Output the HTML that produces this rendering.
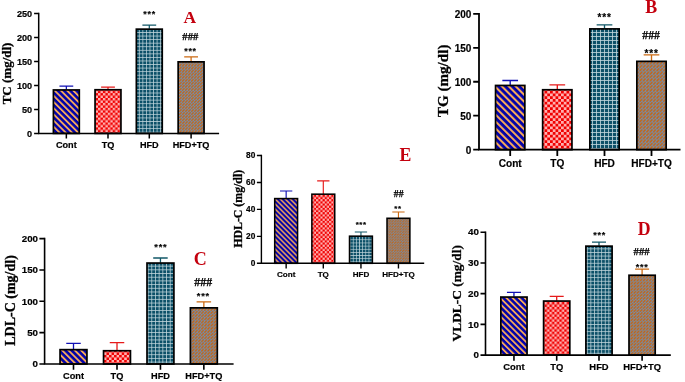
<!DOCTYPE html>
<html><head><meta charset="utf-8"><style>
html,body{margin:0;padding:0;background:#fff;width:685px;height:382px;overflow:hidden}
svg{display:block;will-change:transform}
.s{font-family:"Liberation Sans", sans-serif;font-weight:bold;fill:#000;stroke:#000;stroke-width:0.18px}
.r{font-family:"Liberation Serif", serif;font-weight:bold}
.h{stroke:#000;stroke-width:0.25px}
.t{stroke:#000;stroke-width:0.3px}
</style></head><body>
<svg width="685" height="382" viewBox="0 0 685 382">
<defs>
<pattern id="pS0" patternUnits="userSpaceOnUse" width="4.38" height="4.38" patternTransform="rotate(-45)"><rect width="4.38" height="4.38" fill="#0000aa"/><rect width="1.84" height="4.38" fill="#f6a858"/></pattern>
<pattern id="pC0" patternUnits="userSpaceOnUse" width="4.9" height="4.9"><rect width="4.9" height="4.9" fill="#f00000"/><rect width="2.45" height="2.45" fill="#ffb0b0"/><rect x="2.45" y="2.45" width="2.45" height="2.45" fill="#ffb0b0"/></pattern>
<pattern id="pG0" patternUnits="userSpaceOnUse" width="3.56" height="3.56"><rect width="3.56" height="3.56" fill="#0c5068"/><rect width="3.56" height="0.71" fill="#c4d8de"/><rect width="0.71" height="3.56" fill="#c4d8de"/></pattern>
<pattern id="pD0" patternUnits="userSpaceOnUse" width="3.03" height="3.03"><rect width="3.03" height="3.03" fill="#728eae"/><path d="M0.73 2.3L2.3 0.73" stroke="#c8640f" stroke-width="1.33" stroke-linecap="round"/></pattern>
<pattern id="pS1" patternUnits="userSpaceOnUse" width="4.88" height="4.88" patternTransform="rotate(-45)"><rect width="4.88" height="4.88" fill="#0000aa"/><rect width="2.05" height="4.88" fill="#f6a858"/></pattern>
<pattern id="pC1" patternUnits="userSpaceOnUse" width="5.5" height="5.5"><rect width="5.5" height="5.5" fill="#f00000"/><rect width="2.75" height="2.75" fill="#ffb0b0"/><rect x="2.75" y="2.75" width="2.75" height="2.75" fill="#ffb0b0"/></pattern>
<pattern id="pG1" patternUnits="userSpaceOnUse" width="4" height="4"><rect width="4" height="4" fill="#0c5068"/><rect width="4" height="0.8" fill="#c4d8de"/><rect width="0.8" height="4" fill="#c4d8de"/></pattern>
<pattern id="pD1" patternUnits="userSpaceOnUse" width="3.4" height="3.4"><rect width="3.4" height="3.4" fill="#728eae"/><path d="M0.82 2.58L2.58 0.82" stroke="#c8640f" stroke-width="1.5" stroke-linecap="round"/></pattern>
<pattern id="pS2" patternUnits="userSpaceOnUse" width="4.45" height="4.45" patternTransform="rotate(-45)"><rect width="4.45" height="4.45" fill="#0000aa"/><rect width="1.87" height="4.45" fill="#f6a858"/></pattern>
<pattern id="pC2" patternUnits="userSpaceOnUse" width="5.07" height="5.07"><rect width="5.07" height="5.07" fill="#f00000"/><rect width="2.54" height="2.54" fill="#ffb0b0"/><rect x="2.54" y="2.54" width="2.54" height="2.54" fill="#ffb0b0"/></pattern>
<pattern id="pG2" patternUnits="userSpaceOnUse" width="3.69" height="3.69"><rect width="3.69" height="3.69" fill="#0c5068"/><rect width="3.69" height="0.74" fill="#c4d8de"/><rect width="0.74" height="3.69" fill="#c4d8de"/></pattern>
<pattern id="pD2" patternUnits="userSpaceOnUse" width="3.14" height="3.14"><rect width="3.14" height="3.14" fill="#728eae"/><path d="M0.75 2.38L2.38 0.75" stroke="#c8640f" stroke-width="1.38" stroke-linecap="round"/></pattern>
<pattern id="pS3" patternUnits="userSpaceOnUse" width="4.31" height="4.31" patternTransform="rotate(-45)"><rect width="4.31" height="4.31" fill="#0000aa"/><rect width="1.81" height="4.31" fill="#f6a858"/></pattern>
<pattern id="pC3" patternUnits="userSpaceOnUse" width="4.95" height="4.95"><rect width="4.95" height="4.95" fill="#f00000"/><rect width="2.47" height="2.47" fill="#ffb0b0"/><rect x="2.47" y="2.47" width="2.47" height="2.47" fill="#ffb0b0"/></pattern>
<pattern id="pG3" patternUnits="userSpaceOnUse" width="3.6" height="3.6"><rect width="3.6" height="3.6" fill="#0c5068"/><rect width="3.6" height="0.72" fill="#c4d8de"/><rect width="0.72" height="3.6" fill="#c4d8de"/></pattern>
<pattern id="pD3" patternUnits="userSpaceOnUse" width="3.06" height="3.06"><rect width="3.06" height="3.06" fill="#728eae"/><path d="M0.73 2.33L2.33 0.73" stroke="#c8640f" stroke-width="1.35" stroke-linecap="round"/></pattern>
<pattern id="pS4" patternUnits="userSpaceOnUse" width="3.54" height="3.54" patternTransform="rotate(-45)"><rect width="3.54" height="3.54" fill="#0000aa"/><rect width="1.48" height="3.54" fill="#f6a858"/></pattern>
<pattern id="pC4" patternUnits="userSpaceOnUse" width="4.33" height="4.33"><rect width="4.33" height="4.33" fill="#f00000"/><rect width="2.16" height="2.16" fill="#ffb0b0"/><rect x="2.16" y="2.16" width="2.16" height="2.16" fill="#ffb0b0"/></pattern>
<pattern id="pG4" patternUnits="userSpaceOnUse" width="3.15" height="3.15"><rect width="3.15" height="3.15" fill="#0c5068"/><rect width="3.15" height="0.63" fill="#c4d8de"/><rect width="0.63" height="3.15" fill="#c4d8de"/></pattern>
<pattern id="pD4" patternUnits="userSpaceOnUse" width="2.68" height="2.68"><rect width="2.68" height="2.68" fill="#728eae"/><path d="M0.64 2.03L2.03 0.64" stroke="#c8640f" stroke-width="1.18" stroke-linecap="round"/></pattern>
</defs>
<path d="M66.35 89.6V86.2M59.45 86.2H73.25" stroke="#1010b4" stroke-width="1.25" fill="none"/>
<rect x="53.4" y="89.95" width="25.9" height="43.45" fill="url(#pS0)" stroke="#000" stroke-width="1.7"/>
<path d="M108 89.4V87.1M101.1 87.1H114.9" stroke="#e61a1a" stroke-width="1.25" fill="none"/>
<rect x="95.05" y="89.75" width="25.9" height="43.65" fill="url(#pC0)" stroke="#000" stroke-width="1.7"/>
<path d="M149.3 28.8V25.2M142.4 25.2H156.2" stroke="#125868" stroke-width="1.25" fill="none"/>
<rect x="136.35" y="29.15" width="25.9" height="104.25" fill="url(#pG0)" stroke="#000" stroke-width="1.7"/>
<path d="M191.1 61.5V56.9M184.2 56.9H198" stroke="#cc6a12" stroke-width="1.25" fill="none"/>
<rect x="178.15" y="61.85" width="25.9" height="71.55" fill="url(#pD0)" stroke="#000" stroke-width="1.7"/>
<path d="M38.7 12.75V133.4H219.1" stroke="#000" stroke-width="1.5" fill="none"/>
<text x="32.2" y="136.69" font-size="9.15" text-anchor="end" class="s">0</text>
<text x="32.2" y="112.71" font-size="9.15" text-anchor="end" class="s">50</text>
<text x="32.2" y="88.73" font-size="9.15" text-anchor="end" class="s">100</text>
<text x="32.2" y="64.75" font-size="9.15" text-anchor="end" class="s">150</text>
<text x="32.2" y="40.77" font-size="9.15" text-anchor="end" class="s">200</text>
<text x="32.2" y="16.79" font-size="9.15" text-anchor="end" class="s">250</text>
<path d="M34.1 133.4H38.7M34.1 109.42H38.7M34.1 85.44H38.7M34.1 61.46H38.7M34.1 37.48H38.7M34.1 13.5H38.7M66.35 133.4v5.2M108 133.4v5.2M149.3 133.4v5.2M191.1 133.4v5.2" stroke="#000" stroke-width="1.5" fill="none"/>
<text x="66.35" y="147.7" font-size="9.15" text-anchor="middle" class="s">Cont</text>
<text x="108" y="147.7" font-size="9.15" text-anchor="middle" class="s">TQ</text>
<text x="149.3" y="147.7" font-size="9.15" text-anchor="middle" class="s">HFD</text>
<text x="191.1" y="147.7" font-size="9.15" text-anchor="middle" class="s">HFD+TQ</text>
<text transform="translate(11.3 73.45) rotate(-90)" font-size="13" text-anchor="middle" class="r t">TC (mg/dl)</text>
<text x="189.75" y="22.5" font-size="17.5" text-anchor="middle" class="r" fill="#c4000e">A</text>
<text x="143.3" y="17.4" font-size="8.9" letter-spacing="0.76" class="s">***</text>
<text x="184.2" y="54.1" font-size="8.9" letter-spacing="0.76" class="s">***</text>
<text x="190.3" y="39.6" font-size="10.6" text-anchor="middle" class="r h">###</text>
<path d="M510.2 85.1V80.5M502.35 80.5H518.05" stroke="#1010b4" stroke-width="1.35" fill="none"/>
<rect x="495.55" y="85.45" width="29.3" height="64.25" fill="url(#pS1)" stroke="#000" stroke-width="1.7"/>
<path d="M557.3 89.4V84.8M549.45 84.8H565.15" stroke="#e61a1a" stroke-width="1.35" fill="none"/>
<rect x="542.65" y="89.75" width="29.3" height="59.95" fill="url(#pC1)" stroke="#000" stroke-width="1.7"/>
<path d="M604.5 28.55V24.9M596.65 24.9H612.35" stroke="#125868" stroke-width="1.35" fill="none"/>
<rect x="589.85" y="28.9" width="29.3" height="120.8" fill="url(#pG1)" stroke="#000" stroke-width="1.7"/>
<path d="M651.5 61V54.9M643.65 54.9H659.35" stroke="#cc6a12" stroke-width="1.35" fill="none"/>
<rect x="636.85" y="61.35" width="29.3" height="88.35" fill="url(#pD1)" stroke="#000" stroke-width="1.7"/>
<path d="M479 12.9V149.7H680.5" stroke="#000" stroke-width="1.8" fill="none"/>
<text x="471.4" y="154.1" font-size="10" text-anchor="end" class="s">0</text>
<text x="471.4" y="120.12" font-size="10" text-anchor="end" class="s">50</text>
<text x="471.4" y="86.15" font-size="10" text-anchor="end" class="s">100</text>
<text x="471.4" y="52.18" font-size="10" text-anchor="end" class="s">150</text>
<text x="471.4" y="18.2" font-size="10" text-anchor="end" class="s">200</text>
<path d="M473.2 149.7H479M473.2 115.72H479M473.2 81.75H479M473.2 47.78H479M473.2 13.8H479M510.2 149.7v6.4M557.3 149.7v6.4M604.5 149.7v6.4M651.5 149.7v6.4" stroke="#000" stroke-width="1.8" fill="none"/>
<text x="510.2" y="166.9" font-size="10.1" text-anchor="middle" class="s">Cont</text>
<text x="557.3" y="166.9" font-size="10.1" text-anchor="middle" class="s">TQ</text>
<text x="604.5" y="166.9" font-size="10.1" text-anchor="middle" class="s">HFD</text>
<text x="651.5" y="166.9" font-size="10.1" text-anchor="middle" class="s">HFD+TQ</text>
<text transform="translate(447.5 80.85) rotate(-90)" font-size="15.1" text-anchor="middle" class="r t">TG (mg/dl)</text>
<text x="651.1" y="12.7" font-size="17.9" text-anchor="middle" class="r" fill="#c4000e">B</text>
<text x="597.57" y="20.9" font-size="10" letter-spacing="0.85" class="s">***</text>
<text x="644.52" y="57.4" font-size="10" letter-spacing="0.85" class="s">***</text>
<text x="651.05" y="39.2" font-size="11.7" text-anchor="middle" class="r h">###</text>
<path d="M73.5 349.3V343.3M66.25 343.3H80.75" stroke="#1010b4" stroke-width="1.3" fill="none"/>
<rect x="60.05" y="349.65" width="26.9" height="14.35" fill="url(#pS2)" stroke="#000" stroke-width="1.7"/>
<path d="M117 350.4V342.6M109.75 342.6H124.25" stroke="#e61a1a" stroke-width="1.3" fill="none"/>
<rect x="103.55" y="350.75" width="26.9" height="13.25" fill="url(#pC2)" stroke="#000" stroke-width="1.7"/>
<path d="M160.45 262.7V258M153.2 258H167.7" stroke="#125868" stroke-width="1.3" fill="none"/>
<rect x="147" y="263.05" width="26.9" height="100.95" fill="url(#pG2)" stroke="#000" stroke-width="1.7"/>
<path d="M203.85 307.5V301.8M196.6 301.8H211.1" stroke="#cc6a12" stroke-width="1.3" fill="none"/>
<rect x="190.4" y="307.85" width="26.9" height="56.15" fill="url(#pD2)" stroke="#000" stroke-width="1.7"/>
<path d="M44.6 237.8V364H233.6" stroke="#000" stroke-width="1.6" fill="none"/>
<text x="38" y="367.21" font-size="9.75" text-anchor="end" class="s">0</text>
<text x="38" y="335.86" font-size="9.75" text-anchor="end" class="s">50</text>
<text x="38" y="304.51" font-size="9.75" text-anchor="end" class="s">100</text>
<text x="38" y="273.16" font-size="9.75" text-anchor="end" class="s">150</text>
<text x="38" y="241.81" font-size="9.75" text-anchor="end" class="s">200</text>
<path d="M39.4 364H44.6M39.4 332.65H44.6M39.4 301.3H44.6M39.4 269.95H44.6M39.4 238.6H44.6M73.5 364v5.8M117 364v5.8M160.45 364v5.8M203.85 364v5.8" stroke="#000" stroke-width="1.6" fill="none"/>
<text x="73.5" y="379.1" font-size="9.2" text-anchor="middle" class="s">Cont</text>
<text x="117" y="379.1" font-size="9.2" text-anchor="middle" class="s">TQ</text>
<text x="160.45" y="379.1" font-size="9.2" text-anchor="middle" class="s">HFD</text>
<text x="203.85" y="379.1" font-size="9.2" text-anchor="middle" class="s">HFD+TQ</text>
<text transform="translate(14.8 300.5) rotate(-90)" font-size="14" text-anchor="middle" class="r t">LDL-C (mg/dl)</text>
<text x="200.25" y="265" font-size="18" text-anchor="middle" class="r" fill="#c4000e">C</text>
<text x="154.33" y="249.6" font-size="9.23" letter-spacing="0.78" class="s">***</text>
<text x="196.78" y="298.5" font-size="9.23" letter-spacing="0.78" class="s">***</text>
<text x="203.2" y="285.9" font-size="11.8" text-anchor="middle" class="r h">###</text>
<path d="M513.95 296.7V292.4M506.95 292.4H520.95" stroke="#1010b4" stroke-width="1.3" fill="none"/>
<rect x="500.85" y="297.05" width="26.2" height="58.05" fill="url(#pS3)" stroke="#000" stroke-width="1.7"/>
<path d="M556.7 300.7V296.3M549.7 296.3H563.7" stroke="#e61a1a" stroke-width="1.3" fill="none"/>
<rect x="543.6" y="301.05" width="26.2" height="54.05" fill="url(#pC3)" stroke="#000" stroke-width="1.7"/>
<path d="M599 245.8V242.2M592 242.2H606" stroke="#125868" stroke-width="1.3" fill="none"/>
<rect x="585.9" y="246.15" width="26.2" height="108.95" fill="url(#pG3)" stroke="#000" stroke-width="1.7"/>
<path d="M642.1 274.9V269.1M635.1 269.1H649.1" stroke="#cc6a12" stroke-width="1.3" fill="none"/>
<rect x="629" y="275.25" width="26.2" height="79.85" fill="url(#pD3)" stroke="#000" stroke-width="1.7"/>
<path d="M485.5 231.4V355.1H670.8" stroke="#000" stroke-width="1.6" fill="none"/>
<text x="479" y="358.23" font-size="9.8" text-anchor="end" class="s">0</text>
<text x="479" y="327.5" font-size="9.8" text-anchor="end" class="s">10</text>
<text x="479" y="296.78" font-size="9.8" text-anchor="end" class="s">20</text>
<text x="479" y="266.05" font-size="9.8" text-anchor="end" class="s">30</text>
<text x="479" y="235.33" font-size="9.8" text-anchor="end" class="s">40</text>
<path d="M480.5 355.1H485.5M480.5 324.38H485.5M480.5 293.65H485.5M480.5 262.93H485.5M480.5 232.2H485.5M513.95 355.1v5.6M556.7 355.1v5.6M599 355.1v5.6M642.1 355.1v5.6" stroke="#000" stroke-width="1.6" fill="none"/>
<text x="513.95" y="370.1" font-size="9.4" text-anchor="middle" class="s">Cont</text>
<text x="556.7" y="370.1" font-size="9.4" text-anchor="middle" class="s">TQ</text>
<text x="599" y="370.1" font-size="9.4" text-anchor="middle" class="s">HFD</text>
<text x="642.1" y="370.1" font-size="9.4" text-anchor="middle" class="s">HFD+TQ</text>
<text transform="translate(461.2 293.25) rotate(-90)" font-size="13.4" text-anchor="middle" class="r t">VLDL-C (mg/dl)</text>
<text x="644.1" y="235.4" font-size="17.8" text-anchor="middle" class="r" fill="#c4000e">D</text>
<text x="593.23" y="237.5" font-size="9" letter-spacing="0.76" class="s">***</text>
<text x="635.68" y="269.7" font-size="9" letter-spacing="0.76" class="s">***</text>
<text x="641.55" y="254.9" font-size="10.7" text-anchor="middle" class="r h">###</text>
<path d="M286.15 198.3V191M280 191H292.3" stroke="#1010b4" stroke-width="1.15" fill="none"/>
<rect x="274.72" y="198.58" width="22.85" height="64.72" fill="url(#pS4)" stroke="#000" stroke-width="1.55"/>
<path d="M323.3 193.9V180.9M317.15 180.9H329.45" stroke="#e61a1a" stroke-width="1.15" fill="none"/>
<rect x="311.88" y="194.18" width="22.85" height="69.12" fill="url(#pC4)" stroke="#000" stroke-width="1.55"/>
<path d="M360.95 235.9V232M354.8 232H367.1" stroke="#125868" stroke-width="1.15" fill="none"/>
<rect x="349.52" y="236.18" width="22.85" height="27.12" fill="url(#pG4)" stroke="#000" stroke-width="1.55"/>
<path d="M398.45 218V212M392.3 212H404.6" stroke="#cc6a12" stroke-width="1.15" fill="none"/>
<rect x="387.02" y="218.28" width="22.85" height="45.03" fill="url(#pD4)" stroke="#000" stroke-width="1.55"/>
<path d="M261.4 154.8V263.3H424.2" stroke="#000" stroke-width="1.4" fill="none"/>
<text x="255.3" y="266.29" font-size="8.3" text-anchor="end" class="s">0</text>
<text x="255.3" y="239.34" font-size="8.3" text-anchor="end" class="s">20</text>
<text x="255.3" y="212.39" font-size="8.3" text-anchor="end" class="s">40</text>
<text x="255.3" y="185.44" font-size="8.3" text-anchor="end" class="s">60</text>
<text x="255.3" y="158.49" font-size="8.3" text-anchor="end" class="s">80</text>
<path d="M256.9 263.3H261.4M256.9 236.35H261.4M256.9 209.4H261.4M256.9 182.45H261.4M256.9 155.5H261.4M286.15 263.3v5.1M323.3 263.3v5.1M360.95 263.3v5.1M398.45 263.3v5.1" stroke="#000" stroke-width="1.4" fill="none"/>
<text x="286.15" y="276.8" font-size="8.1" text-anchor="middle" class="s">Cont</text>
<text x="323.3" y="276.8" font-size="8.1" text-anchor="middle" class="s">TQ</text>
<text x="360.95" y="276.8" font-size="8.1" text-anchor="middle" class="s">HFD</text>
<text x="398.45" y="276.8" font-size="8.1" text-anchor="middle" class="s">HFD+TQ</text>
<text transform="translate(242 208.8) rotate(-90)" font-size="11.85" text-anchor="middle" class="r t">HDL-C (mg/dl)</text>
<text x="405.5" y="160.9" font-size="17.8" text-anchor="middle" class="r" fill="#c4000e">E</text>
<text x="355.64" y="226.8" font-size="7.87" letter-spacing="0.67" class="s">***</text>
<text x="394.35" y="210.8" font-size="7.87" letter-spacing="0.67" class="s">**</text>
<text x="398.7" y="197.3" font-size="9.7" text-anchor="middle" class="r h">##</text>
</svg>
</body></html>
